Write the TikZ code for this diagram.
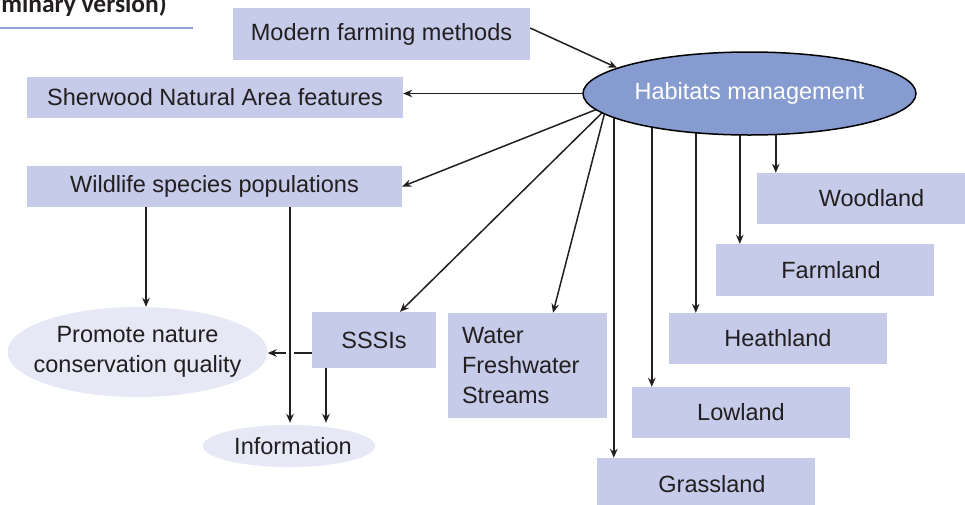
\documentclass[tikz,border=0pt]{standalone}
\usepackage{fontspec}
\setmainfont{Liberation Sans}
\newfontfamily\titlefont{Carlito}
\usetikzlibrary{arrows.meta,backgrounds,shapes.geometric}
\definecolor{boxfill}{RGB}{197,203,232}
\definecolor{habfill}{RGB}{134,155,208}
\definecolor{lightfill}{RGB}{230,232,245}
\definecolor{textc}{RGB}{35,31,32}
\definecolor{ulinec}{RGB}{142,163,211}
\begin{document}
\begin{tikzpicture}[x=1pt,y=-1pt,
  every node/.style={font=\fontsize{23.5}{30}\selectfont, text=textc},
  every label/.style={font=\fontsize{23.5}{30}\selectfont, text=textc, inner sep=0pt},
  boxnode/.style={rectangle, fill=boxfill, inner sep=0pt},
  lightell/.style={ellipse, fill=lightfill, inner sep=0pt},
  arr/.style={draw=textc, line width=1.5pt, -{Stealth[length=9pt,width=7.5pt]}}]
\useasboundingbox (0,0) rectangle (965,504);
% title fragment
\node[anchor=base east, inner sep=0pt, font=\titlefont\bfseries\fontsize{25.5}{30}\selectfont] (title) at (167,12) {minary version)};
\draw[ulinec, line width=2.5pt] (0,28) -- (193,28);
% boxes
\node[boxnode, minimum width=297pt, minimum height=52pt] (mod) at (381.5,34) {Modern farming methods};
\node[boxnode, minimum width=376pt, minimum height=41pt] (sher) at (215,97.5) {Sherwood Natural Area features};
\node[boxnode, minimum width=375pt, minimum height=41pt] (wild) at (214.5,186.5) {Wildlife species populations};
\node[boxnode, minimum width=124pt, minimum height=56pt] (sss) at (374,340) {SSSIs};
\node[boxnode, text width=131pt, inner xsep=14pt, minimum height=105pt, align=left] (water) at (527.5,365.5) {Water\\Freshwater\\Streams};
\node[boxnode, minimum width=229pt, minimum height=51pt] (wood) at (871.5,198.5) {Woodland};
\node[boxnode, minimum width=218pt, minimum height=52pt, label={[xshift=6pt]center:Farmland}] (farm) at (825,270) {};
\node[boxnode, minimum width=218pt, minimum height=51pt] (heath) at (778,338.5) {Heathland};
\node[boxnode, minimum width=218pt, minimum height=51pt] (low) at (741,412.5) {Lowland};
\node[boxnode, minimum width=218pt, minimum height=52pt, label={[xshift=6pt]center:Grassland}] (grass) at (706,484) {};
% ellipses
\node[ellipse, draw=black, line width=1.5pt, fill=habfill, minimum width=333pt, minimum height=83pt, inner sep=0pt, label={[text=white]center:Habitats management}] (hab) at (749.5,93.5) {};
\node[lightell, minimum width=260pt, minimum height=90pt, label={[align=center]center:{Promote nature\\conservation quality}}] (pro) at (137.5,352) {};
\node[lightell, minimum width=172pt, minimum height=42pt, label={[xshift=4pt]center:Information}] (info) at (289,446) {};
% helper coordinates
\coordinate (gx) at ([xshift=17pt]grass.north west);
\coordinate (lx) at ([xshift=20pt]low.north west);
\coordinate (hx) at ([xshift=27pt]heath.north west);
\coordinate (fx) at ([xshift=24pt]farm.north west);
\coordinate (wx) at ([xshift=19pt]wood.north west);
\coordinate (wildstart) at ([shift={(-149.5,14.5)}]hab.center);
\coordinate (sssstart) at ([shift={(-139.5,11.5)}]hab.center);
\coordinate (waterstart) at ([shift={(-141.5,6.5)}]hab.center);
\coordinate (wp) at ([xshift=-68.5pt]wild.south);
\coordinate (wi) at ([xshift=75.5pt]wild.south);
\coordinate (si) at ([xshift=-48pt]sss.south);
% connectors
\begin{pgfonlayer}{background}
\draw[arr] ([yshift=6pt]mod.east) -- (hab.169);
\draw[arr] (hab.west) -- (hab.west -| sher.east);
\draw[arr] (wildstart) -- (wild.east);
\draw[arr] (sssstart) -- ([xshift=26pt]sss.north);
\draw[arr] (waterstart) -- ([xshift=25.5pt]water.north);
\draw[arr] (hab.center -| gx) -- (gx);
\draw[arr] (hab.center -| lx) -- (lx);
\draw[arr] (hab.center -| hx) -- (hx);
\draw[arr] (hab.center -| fx) -- (fx);
\draw[arr] (hab.center -| wx) -- (wx);
\draw[arr] (wp) -- (wp |- pro.north);
\draw[arr] ([yshift=-1pt]sss.west |- pro.east) -- ([yshift=-1pt]pro.east);
\draw[arr, preaction={draw=white, line width=8pt, -}] (wi) -- ([yshift=2pt]wi |- info.north);
\draw[arr] (si) -- ([yshift=2pt]si |- info.north);
\end{pgfonlayer}
\end{tikzpicture}
\end{document}
